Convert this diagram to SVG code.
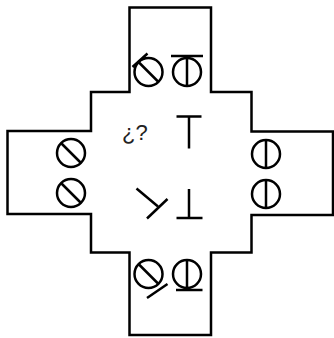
<svg xmlns="http://www.w3.org/2000/svg" width="334" height="338" viewBox="0 0 334 338">
<style>
.o{fill:none;stroke:#000;stroke-width:2.5;stroke-linejoin:miter}
.g{fill:none;stroke:#000;stroke-width:2.5;stroke-linecap:butt}
.t{font-family:"Liberation Sans",Arial,sans-serif;font-size:22px;fill:#222}
</style>
<rect width="334" height="338" fill="#fff"/>
<g id="outline">
<path class="o" d="M129.5,7.5 H211 V92 H251.5 V131.5 H333 V215 H251.5 V252.5 H211 V335 H129.5 V252.5 H91 V214 H7.5 V131 H91 V92 H129.5 Z"/>
</g>
<g id="top-left" class="g">
<circle cx="148.5" cy="72" r="14"/>
<line x1="138.5" y1="62" x2="158.5" y2="82"/>
<line x1="132.5" y1="67" x2="147.5" y2="53.5"/>
</g>
<g id="top-right" class="g">
<circle cx="187" cy="72" r="14"/>
<line x1="187" y1="56" x2="187" y2="86"/>
<line x1="171" y1="56" x2="203" y2="56"/>
</g>
<g id="left" class="g">
<circle cx="71" cy="153" r="14"/>
<line x1="61" y1="143" x2="81" y2="163"/>
<circle cx="71" cy="193" r="14"/>
<line x1="61" y1="183" x2="81" y2="203"/>
</g>
<g id="right" class="g">
<circle cx="266" cy="154" r="14"/>
<line x1="266" y1="140" x2="266" y2="168"/>
<circle cx="266" cy="194" r="14"/>
<line x1="266" y1="180" x2="266" y2="208"/>
</g>
<g id="bottom-left" class="g">
<circle cx="148.5" cy="274" r="14"/>
<line x1="138.5" y1="264" x2="158.5" y2="284"/>
<line x1="147" y1="298" x2="167.5" y2="284"/>
</g>
<g id="bottom-right" class="g">
<circle cx="187" cy="274" r="14"/>
<line x1="187" y1="260" x2="187" y2="290"/>
<line x1="176" y1="290" x2="202.5" y2="290"/>
</g>
<g id="center">
<text class="t" x="122" y="140">¿?</text>
<g class="g">
<line x1="176.5" y1="116.5" x2="201.5" y2="116.5"/>
<line x1="189" y1="116.5" x2="189" y2="148.5"/>
<line x1="189" y1="189" x2="189" y2="218"/>
<line x1="176.5" y1="218" x2="202.5" y2="218"/>
<line x1="136.5" y1="188.5" x2="158" y2="206.5"/>
<line x1="167.5" y1="199" x2="147" y2="218.5"/>
</g>
</g>
</svg>
